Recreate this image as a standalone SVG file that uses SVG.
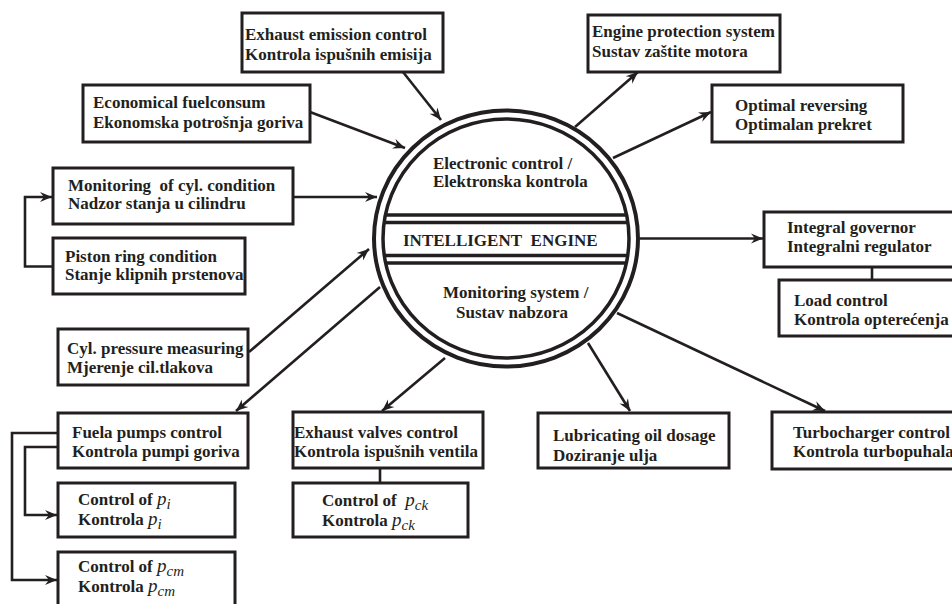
<svg xmlns="http://www.w3.org/2000/svg" width="952" height="604" viewBox="0 0 952 604">
<style>
.box{fill:#fff;stroke:#231f20;stroke-width:3}
.t{font-family:"Liberation Serif","Times New Roman",serif;font-weight:bold;font-size:17px;fill:#231f20}
.it{font-style:italic;font-weight:normal;font-size:19px}
.sub{font-style:italic;font-weight:normal;font-size:15px}
.c{fill:none;stroke:#231f20;stroke-width:2.6}
.ring{fill:none;stroke:#231f20}
</style>
<defs>
<marker id="ah" markerUnits="userSpaceOnUse" markerWidth="14" markerHeight="12" refX="12" refY="5" orient="auto" overflow="visible">
<path d="M0,0 L12,5 L0,10 L4,5 z" fill="#231f20"/>
</marker>
<clipPath id="inner"><ellipse cx="506" cy="238.5" rx="123" ry="119.5"/></clipPath>
</defs>
<rect width="952" height="604" fill="#fff"/>

<g id="engine">
<ellipse class="ring" cx="506" cy="238.5" rx="132" ry="128" stroke-width="4"/>
<ellipse class="ring" cx="506" cy="238.5" rx="123" ry="119.5" stroke-width="3.5"/>
<g clip-path="url(#inner)" stroke="#231f20" stroke-width="3.3">
<line x1="370" y1="215" x2="640" y2="215"/>
<line x1="370" y1="222.5" x2="640" y2="222.5"/>
<line x1="370" y1="255.5" x2="640" y2="255.5"/>
<line x1="370" y1="263" x2="640" y2="263"/>
</g>
<text class="t" x="433" y="169">Electronic control /</text>
<text class="t" x="433" y="187">Elektronska kontrola</text>
<text class="t" x="403" y="245.5">INTELLIGENT&#160; ENGINE</text>
<text class="t" x="443" y="298">Monitoring system /</text>
<text class="t" x="456" y="318">Sustav nabzora</text>
</g>

<g id="connectors">
<line class="c" x1="403" y1="72" x2="441" y2="120" marker-end="url(#ah)"/>
<line class="c" x1="310" y1="112" x2="405" y2="148" marker-end="url(#ah)"/>
<line class="c" x1="575" y1="127" x2="638" y2="72" marker-end="url(#ah)"/>
<line class="c" x1="613" y1="158" x2="711" y2="112" marker-end="url(#ah)"/>
<line class="c" x1="293" y1="197" x2="377" y2="197" marker-end="url(#ah)"/>
<polyline class="c" points="53,266.5 25,266.5 25,197 52,197" marker-end="url(#ah)"/>
<line class="c" x1="249" y1="352" x2="369" y2="249" marker-end="url(#ah)"/>
<line class="c" x1="380" y1="287" x2="236" y2="411" marker-end="url(#ah)"/>
<line class="c" x1="445" y1="358" x2="382" y2="411" marker-end="url(#ah)"/>
<line class="c" x1="588" y1="343" x2="630" y2="411" marker-end="url(#ah)"/>
<line class="c" x1="617" y1="313" x2="825" y2="411" marker-end="url(#ah)"/>
<line class="c" x1="640" y1="238.5" x2="763" y2="238.5" marker-end="url(#ah)"/>
<line class="c" x1="872" y1="267" x2="872" y2="280"/>
<line class="c" x1="380" y1="468" x2="380" y2="483"/>
<polyline class="c" points="58,447 25,447 25,515 57,515" marker-end="url(#ah)"/>
<polyline class="c" points="58,433 12,433 12,580 57,580" marker-end="url(#ah)"/>
</g>

<g id="exhaust-emission">
<rect class="box" x="242" y="13" width="201" height="59"/>
<text class="t" x="245" y="40">Exhaust emission control</text>
<text class="t" x="245" y="60">Kontrola ispušnih emisija</text>
</g>
<g id="economical-fuel">
<rect class="box" x="83" y="85" width="227" height="57"/>
<text class="t" x="93" y="108">Economical fuelconsum</text>
<text class="t" x="93" y="128">Ekonomska potrošnja goriva</text>
</g>
<g id="engine-protection">
<rect class="box" x="588" y="15" width="192" height="57"/>
<text class="t" x="592" y="37">Engine protection system</text>
<text class="t" x="592" y="57">Sustav zaštite motora</text>
</g>
<g id="optimal-reversing">
<rect class="box" x="712" y="85" width="191" height="57"/>
<text class="t" x="735" y="111">Optimal reversing</text>
<text class="t" x="735" y="130">Optimalan prekret</text>
</g>
<g id="monitoring-cyl">
<rect class="box" x="53" y="168" width="240" height="56"/>
<text class="t" x="68" y="191">Monitoring&#160; of cyl. condition</text>
<text class="t" x="68" y="209">Nadzor stanja u cilindru</text>
</g>
<g id="piston-ring">
<rect class="box" x="53" y="238" width="192" height="56"/>
<text class="t" x="65" y="262">Piston ring condition</text>
<text class="t" x="65" y="280">Stanje klipnih prstenova</text>
</g>
<g id="cyl-pressure">
<rect class="box" x="58" y="329" width="190" height="56"/>
<text class="t" x="67" y="354">Cyl. pressure measuring</text>
<text class="t" x="67" y="373">Mjerenje cil.tlakova</text>
</g>
<g id="fuel-pumps">
<rect class="box" x="58" y="413" width="190" height="55"/>
<text class="t" x="72" y="438">Fuela pumps control</text>
<text class="t" x="72" y="457">Kontrola pumpi goriva</text>
</g>
<g id="control-pi">
<rect class="box" x="58" y="483" width="177" height="54"/>
<text class="t" x="78" y="505">Control of <tspan class="it">p</tspan><tspan class="sub" dy="4">i</tspan></text>
<text class="t" x="78" y="525">Kontrola <tspan class="it">p</tspan><tspan class="sub" dy="4">i</tspan></text>
</g>
<g id="control-pcm">
<rect class="box" x="58" y="552" width="177" height="62"/>
<text class="t" x="78" y="572">Control of <tspan class="it">p</tspan><tspan class="sub" dy="4">cm</tspan></text>
<text class="t" x="78" y="592">Kontrola <tspan class="it">p</tspan><tspan class="sub" dy="4">cm</tspan></text>
</g>
<g id="exhaust-valves">
<rect class="box" x="293" y="412" width="190" height="56"/>
<text class="t" x="294" y="438">Exhaust valves control</text>
<text class="t" x="294" y="457">Kontrola ispušnih ventila</text>
</g>
<g id="control-pck">
<rect class="box" x="293" y="483" width="175" height="54"/>
<text class="t" x="322" y="506">Control of&#160; <tspan class="it">p</tspan><tspan class="sub" dy="4">ck</tspan></text>
<text class="t" x="322" y="526">Kontrola <tspan class="it">p</tspan><tspan class="sub" dy="4">ck</tspan></text>
</g>
<g id="lubricating-oil">
<rect class="box" x="538" y="413" width="191" height="55"/>
<text class="t" x="553" y="441">Lubricating oil dosage</text>
<text class="t" x="553" y="461">Doziranje ulja</text>
</g>
<g id="turbocharger">
<rect class="box" x="772" y="412" width="200" height="57"/>
<text class="t" x="793" y="438">Turbocharger control</text>
<text class="t" x="793" y="457">Kontrola turbopuhala</text>
</g>
<g id="integral-governor">
<rect class="box" x="764" y="212" width="200" height="55"/>
<text class="t" x="787" y="233">Integral governor</text>
<text class="t" x="787" y="252">Integralni regulator</text>
</g>
<g id="load-control">
<rect class="box" x="779" y="280" width="200" height="56"/>
<text class="t" x="794" y="306">Load control</text>
<text class="t" x="794" y="325">Kontrola opterećenja</text>
</g>
</svg>
